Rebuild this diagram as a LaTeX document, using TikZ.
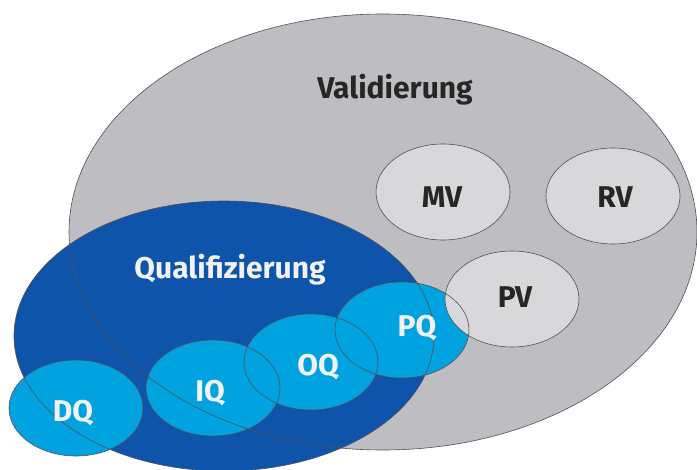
\documentclass[tikz,border=0pt]{standalone}
\usepackage{fontspec}
\setmainfont{Fira Sans}
\usetikzlibrary{shapes.geometric,calc}

\definecolor{valgrau}{RGB}{190,190,194}
\definecolor{hellgrau}{RGB}{216,216,219}
\definecolor{dunkelblau}{RGB}{14,84,170}
\definecolor{hellblau}{RGB}{0,163,224}
\definecolor{randfarbe}{RGB}{80,80,86}

\begin{document}
\begin{tikzpicture}[x=1pt,y=-1pt,
  blob/.style={ellipse, inner sep=0pt, outer sep=0pt},
  klein/.style={blob, minimum width=134pt, minimum height=96pt},
  rand/.style={draw=randfarbe, line width=0.6pt},
  etikett/.style={font=\fontsize{30}{36}\selectfont\bfseries, inner sep=0pt}]
   \useasboundingbox (0,0) rectangle (697,470);

   % die beiden grossen Mengen
   \node[blob, fill=valgrau, minimum width=628pt, minimum height=436pt] (val) at (383,232) {};
   \node[blob, fill=dunkelblau, minimum width=420pt, minimum height=270pt] (qual) at (224,336) {};

   % Validierungen und Qualifizierungen
   \foreach \e/\px/\py in {mv/443/192, rv/613/196}
      \node[klein, fill=hellgrau] (\e) at (\px,\py) {};
   \foreach \e/\px/\py in {dq/76/408, iq/213/388, oq/311/362, pq/402/330}
      \node[klein, fill=hellblau] (\e) at (\px,\py) {};
   \node[klein, fill=hellgrau] (pv) at (512,299) {};

   % Raender zuletzt, damit alle Ueberschneidungen sichtbar bleiben
   \foreach \e in {val,qual,mv,rv,dq,iq,oq,pq,pv}
      \draw[rand] let \p1=($(\e.east)-(\e.center)$), \p2=($(\e.north)-(\e.center)$)
         in (\e.center) ellipse [x radius=\x1, y radius=\y2];

   % Beschriftungen
   \node[etikett, text=black!85] (val-t) at (395,90) {Validierung};
   \node[etikett, text=white!95!black] (qual-t) at (230,270) {Qualifizierung};
   \foreach \e/\txt/\px/\py in {mv-t/MV/442/197, rv-t/RV/615/197, pv-t/PV/515/297}
      \node[etikett, text=black!85] (\e) at (\px,\py) {\txt};
   \foreach \e/\txt/\px/\py in {dq-t/DQ/73/413, iq-t/IQ/210/393, oq-t/OQ/318/367, pq-t/PQ/417/328}
      \node[etikett, text=white!95!black] (\e) at (\px,\py) {\txt};
\end{tikzpicture}
\end{document}
